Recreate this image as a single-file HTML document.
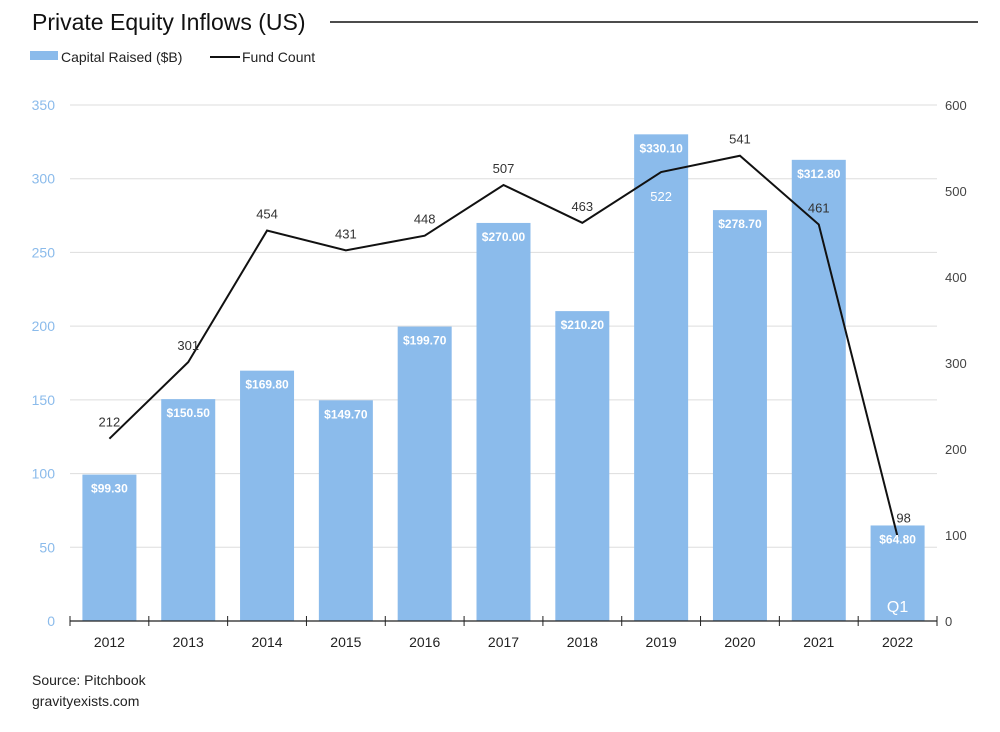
<!DOCTYPE html>
<html><head><meta charset="utf-8"><style>
body{margin:0;background:#fff;font-family:"Liberation Sans",sans-serif;}
</style></head><body>
<svg width="1000" height="727" viewBox="0 0 1000 727" id="c" font-family="Liberation Sans, sans-serif">
<text x="32" y="30" font-size="23" fill="#111">Private Equity Inflows (US)</text>
<line x1="330" y1="22" x2="978" y2="22" stroke="#111" stroke-width="1.5"/>
<g>
<rect x="30" y="51" width="28" height="9" fill="#8bbbeb"/>
<text x="61" y="62" font-size="14" fill="#222">Capital Raised ($B)</text>
<line x1="210" y1="57" x2="240" y2="57" stroke="#111" stroke-width="2"/>
<text x="242" y="62" font-size="14" fill="#222">Fund Count</text>
</g>
<g id="grid"></g><g id="bars"></g><g id="line"></g><g id="labels"></g><g id="axes"></g>
<text x="32" y="685" font-size="14" fill="#222">Source: Pitchbook</text>
<text x="32" y="706" font-size="14" fill="#222">gravityexists.com</text>
</svg>
<script>
const categories=["2012","2013","2014","2015","2016","2017","2018","2019","2020","2021","2022"];
const capital=[99.3,150.5,169.8,149.7,199.7,270.0,210.2,330.1,278.7,312.8,64.8];
const funds=[212,301,454,431,448,507,463,522,541,461,98];
const leftTicks=[0,50,100,150,200,250,300,350];
const rightTicks=[0,100,200,300,400,500,600];
const NS="http://www.w3.org/2000/svg";
const X0=70,X1=937,Y0=621,Y1=105;
const step=(X1-X0)/categories.length;
const xc=i=>X0+step*(i+0.5);
const yL=v=>Y0-(v/350)*(Y0-Y1);
const yR=v=>Y0-(v/600)*(Y0-Y1);
function mk(tag,attrs,parent,txt){const e=document.createElementNS(NS,tag);for(const k in attrs)e.setAttribute(k,attrs[k]);if(txt!==undefined)e.textContent=txt;document.getElementById(parent).appendChild(e);return e;}
leftTicks.forEach(v=>{
 if(v>0){const g=mk('line',{x1:X0,x2:X1,y1:yL(v),y2:yL(v),stroke:'#ddd','stroke-width':1},'grid');
 
 }
 const t=mk('text',{x:55,y:yL(v)+5,'text-anchor':'end','font-size':14,fill:'#8bbbeb'},'axes',v);
 
 
});
rightTicks.forEach(v=>{
 const t=mk('text',{x:945,y:yR(v)+5,'font-size':13,fill:'#444'},'axes',v);
 
 
});
const bw=54;
capital.forEach((v,i)=>{
 const r=mk('rect',{x:xc(i)-bw/2,y:yL(v),width:bw,height:Y0-yL(v),fill:'#8bbbeb'},'bars');
 
 
 const t=mk('text',{x:xc(i),y:yL(v)+18,'text-anchor':'middle','font-size':12,'font-weight':'bold',fill:'#fff'},'labels','$'+v.toFixed(2));
 
 
});
const q=mk('text',{x:xc(10),y:612,'text-anchor':'middle','font-size':16,fill:'#fff'},'labels','Q1');


const pts=funds.map((v,i)=>xc(i)+','+yR(v)).join(' ');
const pl=mk('polyline',{points:pts,fill:'none',stroke:'#111','stroke-width':2},'line');


funds.forEach((v,i)=>{
 let dy=-12; if(i===7) dy=29;
 const t=mk('text',{x:xc(i)+(i===10?6:0),y:yR(v)+dy+(i===10?-2:0),'text-anchor':'middle','font-size':13,fill:i===7?'#fff':'#333'},'labels',v);
 
 
});
const ax=mk('line',{x1:X0,x2:X1,y1:Y0,y2:Y0,stroke:'#222','stroke-width':1.2},'axes');


for(let i=0;i<=categories.length;i++){
 const tk=mk('line',{x1:X0+step*i,x2:X0+step*i,y1:Y0-5,y2:Y0+5,stroke:'#222','stroke-width':1},'axes');
 
 
}
categories.forEach((c,i)=>{
 const t=mk('text',{x:xc(i),y:647,'text-anchor':'middle','font-size':14,fill:'#222'},'axes',c);
 
 
});
</script>
</body></html>
